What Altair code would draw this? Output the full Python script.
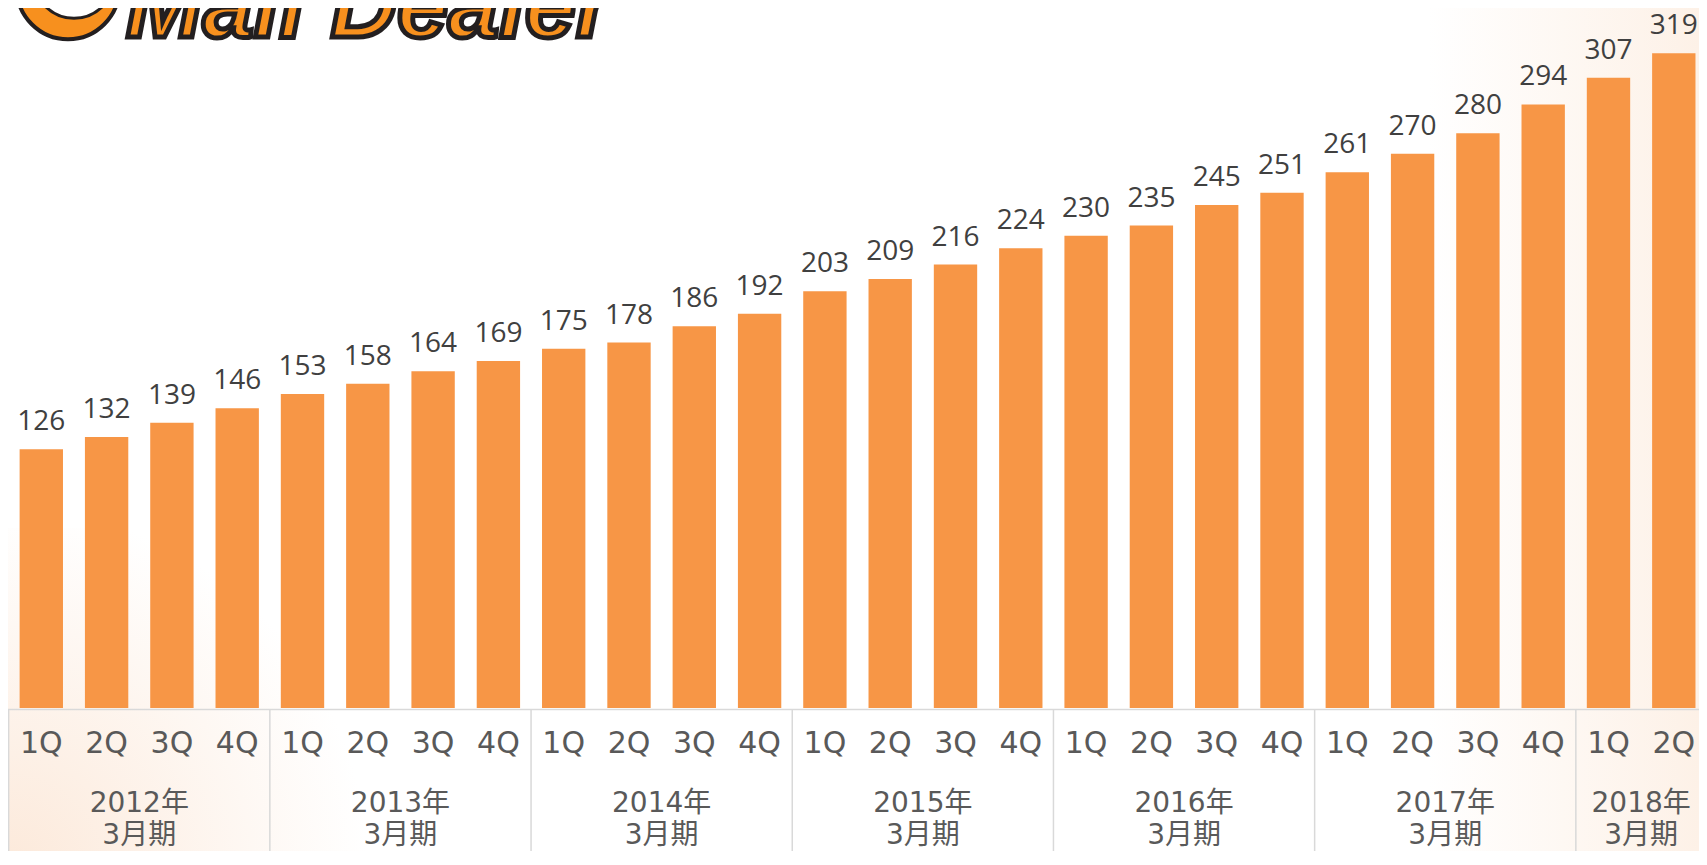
import altair as alt
import pandas as pd

# ---- data ----
quarters = ["1Q", "2Q", "3Q", "4Q", "1Q", "2Q", "3Q", "4Q", "1Q", "2Q", "3Q", "4Q",
            "1Q", "2Q", "3Q", "4Q", "1Q", "2Q", "3Q", "4Q", "1Q", "2Q", "3Q", "4Q",
            "1Q", "2Q"]
values = [126, 132, 139, 146, 153, 158, 164, 169, 175, 178, 186, 192, 203,
          209, 216, 224, 230, 235, 245, 251, 261, 270, 280, 294, 307, 319]
year_labels = ["2012年", "2013年", "2014年", "2015年", "2016年", "2017年", "2018年"]
period_label = ["3月期", "3月期", "3月期", "3月期", "3月期", "3月期", "3月期"]
year_start = [0, 4, 8, 12, 16, 20, 24]
year_end = [4, 8, 12, 16, 20, 24, 26]

W, H = 1691, 700
PB = 143
BAR = "#F79646"
TXT = "#595959"

bars_df = pd.DataFrame({"i": list(range(len(values))), "q": quarters, "v": values})
years_df = pd.DataFrame({"y1": year_labels, "y2": period_label,
                         "s": year_start, "e": year_end})

xs = alt.Scale(domain=[-0.01, 25.886], nice=False, zero=False)
ys = alt.Scale(domain=[0, 341], nice=False)

base = alt.Chart(bars_df)
one = pd.DataFrame({"a": [0]})

# faint peach background decorations
bg_right = alt.Chart(one).mark_rect(
    color=alt.LinearGradient(gradient="linear",
                             stops=[alt.GradientStop(color="#FFFFFF", offset=0),
                                    alt.GradientStop(color="#FDF1E7", offset=1)],
                             x1=0, x2=1, y1=0, y2=0)
).encode(x=alt.value(1420), x2=alt.value(W), y=alt.value(-8), y2=alt.value(H + PB))

bg_left = alt.Chart(one).mark_rect(
    color=alt.RadialGradient(gradient="radial",
                             stops=[alt.GradientStop(color="#FCE9DA", offset=0),
                                    alt.GradientStop(color="#FFFFFF", offset=1)],
                             x1=0, y1=1, x2=0, y2=1, r1=0, r2=1)
).encode(x=alt.value(0), x2=alt.value(360), y=alt.value(520), y2=alt.value(H + PB))

bars = base.transform_calculate(
    x1="datum.i + 0.168", x2="datum.i + 0.832"
).mark_rect(color=BAR).encode(
    x=alt.X("x1:Q", scale=xs, axis=None),
    x2="x2:Q",
    y=alt.Y("v:Q", scale=ys, axis=None),
    y2=alt.datum(0),
)

vlabels = base.transform_calculate(xc="datum.i + 0.5").mark_text(
    font="Open Sans", fontSize=28, color="#404040", baseline="alphabetic",
    align="center", dy=-19
).encode(x=alt.X("xc:Q", scale=xs), y=alt.Y("v:Q", scale=ys), text="v:Q")

axis_line = alt.Chart(one).mark_rule(
    color="#D9D9D9", strokeWidth=1.5
).encode(x=alt.value(0), x2=alt.value(W), y=alt.value(701.5))

seps = alt.Chart(years_df).mark_rule(color="#D9D9D9", strokeWidth=1.5).encode(
    x=alt.X("s:Q", scale=xs), y=alt.value(701.5), y2=alt.value(H + PB)
)

qlabels = base.transform_calculate(xc="datum.i + 0.5").mark_text(
    font="DejaVu Sans", fontSize=30, color=TXT, baseline="middle", align="center"
).encode(x=alt.X("xc:Q", scale=xs), y=alt.value(736), text="q:N")

ylab1 = alt.Chart(years_df).transform_calculate(c="(datum.s + datum.e) / 2").mark_text(
    font="DejaVu Sans, Noto Sans CJK JP", fontSize=28, color=TXT,
    baseline="middle", align="center"
).encode(x=alt.X("c:Q", scale=xs), y=alt.value(796), text="y1:N")

ylab2 = alt.Chart(years_df).transform_calculate(c="(datum.s + datum.e) / 2").mark_text(
    font="DejaVu Sans, Noto Sans CJK JP", fontSize=28, color=TXT,
    baseline="middle", align="center"
).encode(x=alt.X("c:Q", scale=xs), y=alt.value(828), text="y2:N")

# logo (partially cut at the top of the page)
logo_ring = alt.Chart(one).mark_point(
    shape="circle", filled=True, fill="#F7901E", stroke="#231F20", strokeWidth=4,
    size=10500, opacity=1
).encode(x=alt.value(60), y=alt.value(-20))
logo_inner = alt.Chart(one).mark_point(
    shape="circle", filled=True, fill="#FFFFFF", stroke="#231F20", strokeWidth=3,
    size=6500, opacity=1
).encode(x=alt.value(66), y=alt.value(-30))
logo_text = alt.Chart(pd.DataFrame({"t": ["Mail Dealer"]})).mark_text(
    font="Liberation Sans", fontSize=92, fontWeight="bold", fontStyle="italic",
    fill="#F7901E", stroke="#231F20", strokeWidth=5, align="left",
    baseline="alphabetic"
).encode(x=alt.value(118), y=alt.value(29), text="t:N")

chart = alt.layer(
    bg_right, bg_left, bars, vlabels, axis_line, seps, qlabels, ylab1, ylab2,
    logo_ring, logo_inner, logo_text
).properties(
    width=W, height=H,
    autosize=alt.AutoSizeParams(type="none"),
    padding={"left": 0, "top": 0, "right": 0, "bottom": PB},
    background="#FFFFFF",
).configure_view(strokeWidth=0)

chart.save("out.html", embed_options={"renderer": "svg", "actions": False})
